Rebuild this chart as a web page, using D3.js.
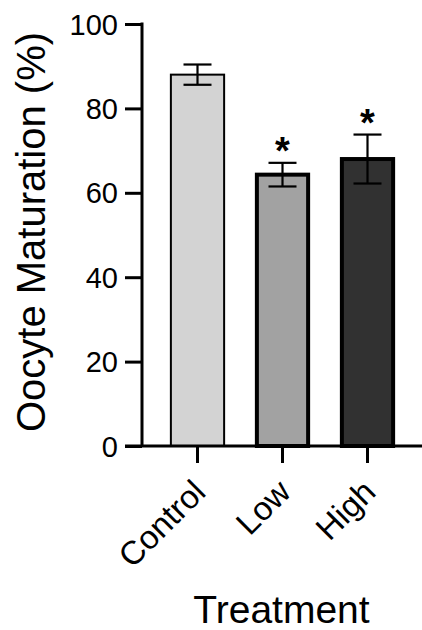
<!DOCTYPE html>
<html>
<head>
<meta charset="utf-8">
<script src="https://cdn.jsdelivr.net/npm/d3@7"></script>
<style>
  html, body { margin: 0; padding: 0; background: #fff; }
  svg { display: block; }
  text { font-family: "Liberation Sans", Arial, Helvetica, sans-serif; fill: #000; }
</style>
</head>
<body>
<svg id="chart" width="422" height="630"></svg>
<script>
// ---- data ----
const categories = ["Control", "Low", "High"];
const means = [88.0, 64.3, 68.0];
const errors = [2.4, 2.8, 5.8];
const significant = [false, true, true];
const fills = ["#d3d3d3", "#a2a2a2", "#313131"];
const yTicks = [0, 20, 40, 60, 80, 100];
const yTitle = "Oocyte Maturation (%)";
const xTitle = "Treatment";

// ---- layout ----
const svg = d3.select("#chart");
const y = d3.scaleLinear().domain([0, 100]).range([446, 24]);
const x = d3.scaleBand().domain(categories).range([155, 410])
  .paddingInner(0.35).paddingOuter(0.175);
const axisX = 142;

// y axis
const yAxis = d3.axisLeft(y).tickValues(yTicks).tickSize(17).tickPadding(7).tickSizeOuter(0);
const gy = svg.append("g").attr("transform", `translate(${axisX},0)`).call(yAxis);
gy.select(".domain").attr("stroke", "#000").attr("stroke-width", 3).attr("d", `M0,${y(100) - 1.5}V${y(0)}`);
gy.selectAll(".tick line").attr("stroke", "#000").attr("stroke-width", 3);
gy.selectAll(".tick text").style("font-size", "29px").attr("dy", "0.35em");

// bars
const bars = svg.append("g");
categories.forEach((c, i) => {
  const sw = i === 0 ? 2 : 4;
  bars.append("rect")
    .attr("x", x(c) + sw / 2)
    .attr("y", y(means[i]))
    .attr("width", x.bandwidth() - sw)
    .attr("height", y(0) - y(means[i]))
    .attr("fill", fills[i])
    .attr("stroke", "#000")
    .attr("stroke-width", sw);
});

// x axis (drawn over bar bottoms)
const xAxis = d3.axisBottom(x).tickSize(17).tickSizeOuter(0).tickFormat("");
const gx = svg.append("g").attr("transform", `translate(0,${y(0)})`).call(xAxis);
gx.select(".domain").attr("stroke", "#000").attr("stroke-width", 3).attr("d", "M125,0H422");
gx.selectAll(".tick line").attr("stroke", "#000").attr("stroke-width", 3);

// x labels, rotated
svg.append("g").selectAll("text").data(categories).join("text")
  .attr("transform", d => `translate(${x(d) + x.bandwidth() / 2 + 10},494) rotate(-45)`)
  .attr("text-anchor", "end")
  .style("font-size", "33px")
  .text(d => d);

// error bars
const eb = svg.append("g").attr("stroke", "#000").attr("stroke-width", 2.2).attr("fill", "none");
categories.forEach((c, i) => {
  const cx = x(c) + x.bandwidth() / 2;
  const top = y(means[i] + errors[i]);
  const bot = y(means[i] - errors[i]);
  eb.append("line").attr("x1", cx).attr("x2", cx).attr("y1", top).attr("y2", bot);
  eb.append("line").attr("x1", cx - 14).attr("x2", cx + 14).attr("y1", top).attr("y2", top);
  eb.append("line").attr("x1", cx - 14).attr("x2", cx + 14).attr("y1", bot).attr("y2", bot);
});

// significance stars
svg.append("g").selectAll("text").data(categories.filter((c, i) => significant[i])).join("text")
  .attr("x", d => x(d) + x.bandwidth() / 2)
  .attr("y", d => { const i = categories.indexOf(d); return y(means[i] + errors[i]) + 1; })
  .attr("text-anchor", "middle")
  .style("font-size", "38px")
  .style("font-weight", "bold")
  .text("*");

// axis titles
svg.append("text")
  .attr("transform", "translate(45,232) rotate(-90)")
  .attr("text-anchor", "middle")
  .style("font-size", "40px")
  .text(yTitle);

svg.append("text")
  .attr("x", 281.5).attr("y", 623)
  .attr("text-anchor", "middle")
  .style("font-size", "39px")
  .text(xTitle);
</script>
</body>
</html>
